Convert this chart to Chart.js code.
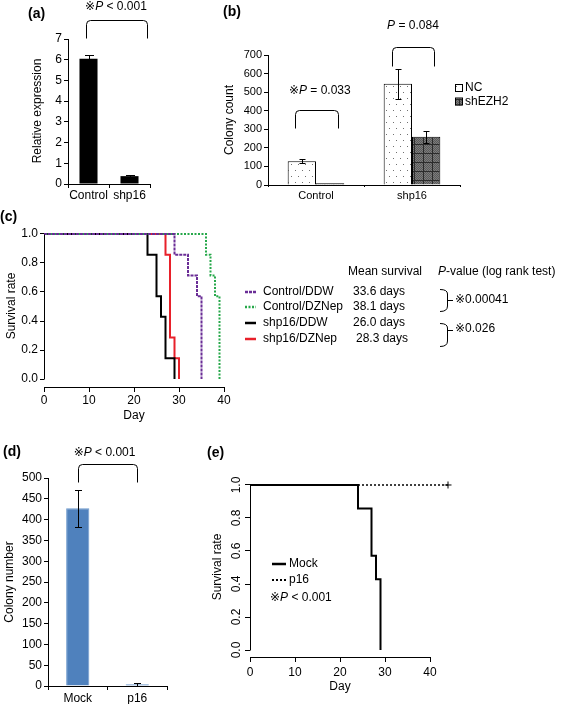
<!DOCTYPE html>
<html><head><meta charset="utf-8">
<script src="https://cdn.jsdelivr.net/npm/chart.js@4.4.1/dist/chart.umd.min.js"></script>
<style>
html,body{margin:0;padding:0;background:#fff;}
#wrap{position:relative;width:572px;height:705px;overflow:hidden;background:#fff}
canvas{position:absolute;left:0;top:0}
</style></head><body><div id="wrap">
<canvas id="cA" width="572" height="705"></canvas>
<canvas id="cB" width="572" height="705"></canvas>
<canvas id="cC" width="572" height="705"></canvas>
<canvas id="cD" width="572" height="705"></canvas>
<canvas id="cE" width="572" height="705"></canvas>
</div>
<script>
// ---------------- DATA ----------------
// (a) relative expression
const relCategories = ['Control', 'shp16'];
const relExpression = [6.05, 0.38];
const relExpressionErr = [0.2, 0.07];
const relTicks = [0, 1, 2, 3, 4, 5, 6, 7];

// (b) colony count
const colonyCategories = ['Control', 'shp16'];
const colonySeries = ['NC', 'shEZH2'];
const colonyNC = [128, 545];
const colonyNCErr = [12, 80];
const colonyShEZH2 = [9, 260];
const colonyShEZH2Err = [0, 32];
const colonyTicks = [0, 100, 200, 300, 400, 500, 600, 700];

// (c) Kaplan-Meier survival
const survGroups = ['Control/DDW', 'Control/DZNep', 'shp16/DDW', 'shp16/DZNep'];
const meanSurvival = ['33.6 days', '38.1 days', '26.0 days', '28.3 days'];
const daysCtrlDDW = [0, 29, 32, 34, 35];
const rateCtrlDDW = [1.0, 0.857, 0.714, 0.571, 0.0];
const daysCtrlDZNep = [0, 36, 37, 38, 39];
const rateCtrlDZNep = [1.0, 0.857, 0.714, 0.571, 0.0];
const daysShpDDW = [0, 23, 25, 26, 27, 29];
const rateShpDDW = [1.0, 0.857, 0.571, 0.429, 0.143, 0.0];
const daysShpDZNep = [0, 27, 28, 29, 30];
const rateShpDZNep = [1.0, 0.857, 0.286, 0.143, 0.0];
const pValues = ['※0.00041', '※0.026'];
const survTicks = [0, 0.2, 0.4, 0.6, 0.8, 1.0];
const dayTicks = [0, 10, 20, 30, 40];

// (d) colony number
const p16Categories = ['Mock', 'p16'];
const p16Colonies = [427, 4];
const p16ColoniesErr = [45, 3];
const p16Ticks = [0, 50, 100, 150, 200, 250, 300, 350, 400, 450, 500];

// (e) survival Mock vs p16
const survGroupsE = ['Mock', 'p16'];
const daysMock = [0, 24, 27, 28, 29];
const rateMock = [1.0, 0.857, 0.571, 0.429, 0.0];
const daysP16 = [0, 44];
const rateP16 = [1.0, 1.0];

// ---------------- HELPERS ----------------
const FONT = '"Liberation Sans", Arial, Helvetica, "DejaVu Sans", "Noto Sans CJK JP", sans-serif';
const W = 572, H = 705;
function setFont(ctx, size, italic, bold) {
  ctx.font = (italic ? 'italic ' : '') + (bold ? 'bold ' : '') + size + 'px ' + FONT;
}
function richText(ctx, str, x, y, size, align, bold, rot) {
  const parts = str.split('*').map((t, i) => ({ t, it: i % 2 === 1 })).filter(p => p.t.length);
  const widths = parts.map(p => { setFont(ctx, size, p.it, bold); return ctx.measureText(p.t).width; });
  const total = widths.reduce((a, b) => a + b, 0);
  ctx.save();
  ctx.translate(x, y);
  if (rot) ctx.rotate(rot);
  let cx = align === 'center' ? -total / 2 : align === 'right' ? -total : 0;
  ctx.textAlign = 'left'; ctx.textBaseline = 'middle'; ctx.fillStyle = '#000';
  parts.forEach((p, i) => { setFont(ctx, size, p.it, bold); ctx.fillText(p.t, cx, 0); cx += widths[i]; });
  ctx.restore();
}
function pad(L, R, T, B, yw, xh) {
  return { left: L - yw, right: W - R, top: T, bottom: H - B - xh };
}
function textPlugin(items) {
  return { id: 'texts', afterDraw(chart) {
    items.forEach(it => richText(chart.ctx, it.t, it.x, it.y, it.size || 12, it.align || 'center', it.bold, it.rot));
  } };
}
function errPlugin(errs, cap) {
  return { id: 'errbars', afterDatasetsDraw(chart) {
    const ctx = chart.ctx, ys = chart.scales.y;
    ctx.save(); ctx.strokeStyle = '#000'; ctx.lineWidth = 1;
    errs.forEach((arr, di) => {
      const meta = chart.getDatasetMeta(di), data = chart.data.datasets[di].data;
      meta.data.forEach((bar, j) => {
        const e = arr[j]; if (!e) return;
        const x = Math.round(bar.x) + 0.5;
        const yt = Math.round(ys.getPixelForValue(data[j] + e)) + 0.5;
        const yb = Math.round(ys.getPixelForValue(Math.max(0, data[j] - e))) + 0.5;
        ctx.beginPath();
        ctx.moveTo(x, yt); ctx.lineTo(x, yb);
        ctx.moveTo(x - cap / 2, yt); ctx.lineTo(x + cap / 2, yt);
        ctx.moveTo(x - cap / 2, yb); ctx.lineTo(x + cap / 2, yb);
        ctx.stroke();
      });
    });
    ctx.restore();
  } };
}
function sigPlugin(items) {
  return { id: 'sig', afterDraw(chart) {
    const ctx = chart.ctx, xs = chart.scales.x, ys = chart.scales.y;
    ctx.save(); ctx.strokeStyle = '#000'; ctx.lineWidth = 1;
    items.forEach(b => {
      const x0 = Math.round(xs.getPixelForValue(b.x0)) + 0.5, x1 = Math.round(xs.getPixelForValue(b.x1)) + 0.5;
      const yt = Math.round(ys.getPixelForValue(b.top)) + 0.5, yl = Math.round(ys.getPixelForValue(b.leg)) + 0.5;
      const r = 4;
      ctx.beginPath();
      ctx.moveTo(x0, yl); ctx.lineTo(x0, yt + r); ctx.quadraticCurveTo(x0, yt, x0 + r, yt);
      ctx.lineTo(x1 - r, yt); ctx.quadraticCurveTo(x1, yt, x1, yt + r); ctx.lineTo(x1, yl);
      ctx.stroke();
      richText(ctx, b.label, xs.getPixelForValue(b.lx), ys.getPixelForValue(b.ly), b.size || 12, 'center');
    });
    ctx.restore();
  } };
}
// R-style detached axes: axis line spans first..last tick
const rAxesPlugin = { id: 'raxes', afterDraw(chart) {
  const ctx = chart.ctx, xs = chart.scales.x, ys = chart.scales.y, a = chart.chartArea;
  ctx.save(); ctx.strokeStyle = '#000'; ctx.lineWidth = 1;
  const ax = Math.round(a.left) + 0.5, ay = Math.round(a.bottom) + 0.5;
  const yt = ys.ticks, xt = xs.ticks;
  ctx.beginPath();
  ctx.moveTo(ax, Math.round(ys.getPixelForValue(yt[0].value)) + 0.5);
  ctx.lineTo(ax, Math.round(ys.getPixelForValue(yt[yt.length - 1].value)) + 0.5);
  ctx.moveTo(Math.round(xs.getPixelForValue(xt[0].value)) + 0.5, ay);
  ctx.lineTo(Math.round(xs.getPixelForValue(xt[xt.length - 1].value)) + 0.5, ay);
  ctx.stroke();
  ctx.restore();
} };
function makePattern(kind) {
  const c = document.createElement('canvas'); const g = c.getContext('2d');
  if (kind === 'dots') {
    c.width = 7; c.height = 12;
    g.fillStyle = '#ffffff'; g.fillRect(0, 0, 7, 12);
    g.fillStyle = '#707070'; g.fillRect(1, 2, 1, 1); g.fillRect(4, 8, 1, 1);
  } else {
    c.width = 9; c.height = 9;
    g.fillStyle = '#7c7c7c'; g.fillRect(0, 0, 9, 9);
    g.fillStyle = '#5a5a5a';
    for (let i = 0; i < 9; i++) for (let j = 0; j < 9; j++) if ((i + j) % 2) g.fillRect(i, j, 1, 1);
    g.fillStyle = '#2c2c2c'; g.fillRect(0, 0, 9, 1); g.fillRect(0, 0, 1, 9);
  }
  return g.createPattern(c, 'repeat');
}
function fixedTicks(arr) { return s => { s.ticks = arr.map(v => ({ value: v })); }; }
function font(size) { return { family: FONT, size: size }; }
function barY(min, max, ticksArr, yw, size, padding) {
  return { min, max, afterBuildTicks: fixedTicks(ticksArr), afterFit: s => { s.width = yw; },
    border: { display: true, color: '#000', width: 1 },
    grid: { drawOnChartArea: false, drawTicks: true, tickLength: 4, color: '#000' },
    ticks: { color: '#000', font: font(size), padding: padding } };
}
function barX(xh, size, tickLen, padding) {
  return { afterFit: s => { s.height = xh; },
    border: { display: true, color: '#000', width: 1 },
    grid: { drawOnChartArea: false, drawTicks: true, tickLength: tickLen, color: '#000', offset: true },
    ticks: { color: '#000', font: font(size), padding: padding, maxRotation: 0, autoSkip: false } };
}
const common = { responsive: false, animation: false, devicePixelRatio: 1, events: [],
  plugins: { legend: { display: false }, tooltip: { enabled: false } } };
function KM(days, rates) { return days.map((d, i) => ({ x: d, y: rates[i] })); }

// ---------------- (a) ----------------
new Chart(document.getElementById('cA'), {
  type: 'bar',
  data: { labels: relCategories, datasets: [{ label: 'Relative expression', data: relExpression,
    backgroundColor: '#000', borderWidth: 0, barPercentage: 0.44, categoryPercentage: 1 }] },
  options: Object.assign({}, common, {
    layout: { padding: pad(68, 150, 39, 184, 40, 22) },
    scales: { y: barY(0, 7, relTicks, 40, 12, 2), x: barX(22, 12, 4, 0) } }),
  plugins: [errPlugin([relExpressionErr], 9),
    sigPlugin([{ x0: -0.06, x1: 1.43, top: 7.9, leg: 7.05, label: '※*P* < 0.001', lx: 0.67, ly: 8.55 }]),
    textPlugin([{ t: '(a)', x: 28, y: 14, size: 14, bold: true, align: 'left' },
      { t: 'Relative expression', x: 38, y: 111, rot: -Math.PI / 2 }])]
});

// ---------------- (b) ----------------
const dotsPat = makePattern('dots'), gridPat = makePattern('grid');
new Chart(document.getElementById('cB'), {
  type: 'bar',
  data: { labels: colonyCategories, datasets: [
    { label: colonySeries[0], data: colonyNC, backgroundColor: dotsPat, borderColor: '#000', borderWidth: 1,
      barPercentage: 1, categoryPercentage: 0.59 },
    { label: colonySeries[1], data: colonyShEZH2, backgroundColor: gridPat, borderColor: '#000', borderWidth: 1,
      barPercentage: 1, categoryPercentage: 0.59 }] },
  options: Object.assign({}, common, {
    layout: { padding: pad(268, 460, 55, 185, 68, 20) },
    scales: { y: barY(0, 700, colonyTicks, 68, 11, 2), x: barX(20, 11, 2, 2) } }),
  plugins: [errPlugin([colonyNCErr, colonyShEZH2Err], 6),
    sigPlugin([{ x0: -0.22, x1: 0.23, top: 404, leg: 305, label: '※*P* = 0.033', lx: 0.04, ly: 506 },
               { x0: 0.79, x1: 1.23, top: 743, leg: 640, label: '*P* = 0.084', lx: 1.01, ly: 856 }]),
    { id: 'legB', afterDraw(chart) {
      const ctx = chart.ctx;
      chart.data.datasets.forEach((ds, i) => {
        const y = 88 + i * 13.5;
        ctx.save(); ctx.fillStyle = ds.backgroundColor; ctx.fillRect(455, y - 3, 7, 7);
        ctx.strokeStyle = '#000'; ctx.lineWidth = 1; ctx.strokeRect(455.5, y - 3.5, 7, 7); ctx.restore();
        richText(ctx, ds.label, 465, y, 12, 'left');
      });
    } },
    textPlugin([{ t: '(b)', x: 223, y: 12, size: 14, bold: true, align: 'left' },
      { t: 'Colony count', x: 230, y: 120, rot: -Math.PI / 2 }])]
});

// ---------------- (c) ----------------
const survColors = ['#6a2d96', '#26a84a', '#000000', '#e8202a'];
const survDash = [[3, 1], [2, 1.5], [], []];
new Chart(document.getElementById('cC'), {
  type: 'line',
  data: { datasets: [
    { label: survGroups[0], data: KM(daysCtrlDDW, rateCtrlDDW) },
    { label: survGroups[1], data: KM(daysCtrlDZNep, rateCtrlDZNep) },
    { label: survGroups[2], data: KM(daysShpDDW, rateShpDDW) },
    { label: survGroups[3], data: KM(daysShpDZNep, rateShpDZNep) }
  ].map((d, i) => Object.assign(d, { borderColor: survColors[i], borderDash: survDash[i], borderWidth: 2,
      stepped: 'before', pointRadius: 0, fill: false, clip: false, tension: 0 })) },
  options: Object.assign({}, common, {
    layout: { padding: pad(44, 224, 226, 387, 44, 20) },
    scales: {
      x: { type: 'linear', min: 0, max: 40, afterBuildTicks: fixedTicks(dayTicks), afterFit: s => { s.height = 20; },
        border: { display: false }, grid: { drawOnChartArea: false, tickLength: 5, color: '#000' },
        ticks: { color: '#000', font: font(12), padding: 1, maxRotation: 0 } },
      y: { type: 'linear', min: -0.055, max: 1.055, afterBuildTicks: fixedTicks(survTicks), afterFit: s => { s.width = 44; },
        border: { display: false }, grid: { drawOnChartArea: false, tickLength: 4, color: '#000' },
        ticks: { color: '#000', font: font(12), padding: 2, callback: v => Number(v).toFixed(1) } } } }),
  plugins: [rAxesPlugin,
    { id: 'legC', afterDraw(chart) {
      const ctx = chart.ctx;
      const rows = [292, 307, 323, 339];
      chart.data.datasets.forEach((ds, i) => {
        ctx.save(); ctx.strokeStyle = ds.borderColor; ctx.lineWidth = 2.5; ctx.setLineDash(ds.borderDash || []);
        ctx.beginPath(); ctx.moveTo(245, rows[i]); ctx.lineTo(256, rows[i]); ctx.stroke(); ctx.restore();
        richText(ctx, ds.label, 263, rows[i], 12, 'left');
        richText(ctx, meanSurvival[i], i === 3 ? 356 : 353, rows[i], 12, 'left');
      });
      // braces
      ctx.save(); ctx.strokeStyle = '#000'; ctx.lineWidth = 1;
      [[289, 311, 300], [323, 346, 330]].forEach(([t, b, m]) => {
        ctx.beginPath();
        ctx.moveTo(440, t + 0.5); ctx.quadraticCurveTo(447.5, t + 0.5, 447.5, t + 5);
        ctx.lineTo(447.5, b - 5); ctx.quadraticCurveTo(447.5, b + 0.5, 440, b + 0.5);
        ctx.moveTo(447.5, m + 0.5); ctx.lineTo(453, m + 0.5);
        ctx.stroke();
      });
      ctx.restore();
      richText(ctx, pValues[0], 455, 300, 12, 'left');
      richText(ctx, pValues[1], 455, 329, 12, 'left');
    } },
    textPlugin([{ t: '(c)', x: 0, y: 217, size: 14, bold: true, align: 'left' },
      { t: 'Survival rate', x: 12, y: 306, rot: -Math.PI / 2 },
      { t: 'Day', x: 134, y: 416 },
      { t: 'Mean survival', x: 348, y: 272, align: 'left' },
      { t: '*P*-value (log rank test)', x: 438, y: 272, align: 'left' }])]
});

// ---------------- (d) ----------------
new Chart(document.getElementById('cD'), {
  type: 'bar',
  data: { labels: p16Categories, datasets: [{ label: 'Colony number', data: p16Colonies,
    backgroundColor: '#4f81bd', borderColor: '#6d98cc', borderWidth: 1, barPercentage: 0.39, categoryPercentage: 1 }] },
  options: Object.assign({}, common, {
    layout: { padding: pad(48, 167, 478, 686, 48, 18) },
    scales: { y: barY(0, 500, p16Ticks, 48, 12, 2), x: barX(18, 12, 4, 1) } }),
  plugins: [errPlugin([p16ColoniesErr], 7),
    sigPlugin([{ x0: 0, x1: 1, top: 534, leg: 490, label: '※*P* < 0.001', lx: 0.45, ly: 560 }]),
    textPlugin([{ t: '(d)', x: 3, y: 452, size: 14, bold: true, align: 'left' },
      { t: 'Colony number', x: 10, y: 582, rot: -Math.PI / 2 }])]
});

// ---------------- (e) ----------------
new Chart(document.getElementById('cE'), {
  type: 'line',
  data: { datasets: [
    { label: survGroupsE[0], data: KM(daysMock, rateMock), borderColor: '#000', borderWidth: 2, borderDash: [],
      stepped: 'before', pointRadius: 0, clip: false },
    { label: survGroupsE[1], data: KM(daysP16, rateP16), borderColor: '#000', borderWidth: 1.3, borderDash: [2, 2],
      stepped: 'before', pointRadius: [0, 3.5], pointStyle: 'cross', pointBorderWidth: 1, pointBorderColor: '#000', clip: false }
  ] },
  options: Object.assign({}, common, {
    layout: { padding: pad(250, 452.5, 478, 657, 50, 22) },
    scales: {
      x: { type: 'linear', min: 0, max: 45, afterBuildTicks: fixedTicks(dayTicks), afterFit: s => { s.height = 22; },
        border: { display: false }, grid: { drawOnChartArea: false, tickLength: 5, color: '#000' },
        ticks: { color: '#000', font: font(12), padding: 3, maxRotation: 0 } },
      y: { type: 'linear', min: -0.0424, max: 1.0424, afterBuildTicks: fixedTicks(survTicks), afterFit: s => { s.width = 50; },
        border: { display: false }, grid: { drawOnChartArea: false, tickLength: 5, color: '#000' },
        ticks: { color: '#000', font: font(12), padding: 0, minRotation: 90, maxRotation: 90, crossAlign: 'center',
          callback: v => Number(v).toFixed(1) } } } }),
  plugins: [rAxesPlugin,
    { id: 'legE', afterDraw(chart) {
      const ctx = chart.ctx;
      chart.data.datasets.forEach((ds, i) => {
        const y = 564 + i * 16;
        ctx.save(); ctx.strokeStyle = '#000'; ctx.lineWidth = i === 0 ? 2.5 : 2; ctx.setLineDash(i === 0 ? [] : [2, 2]);
        ctx.beginPath(); ctx.moveTo(272, y); ctx.lineTo(286, y); ctx.stroke(); ctx.restore();
        richText(ctx, ds.label, 289, y, 12, 'left');
      });
    } },
    textPlugin([{ t: '(e)', x: 207, y: 453, size: 14, bold: true, align: 'left' },
      { t: 'Survival rate', x: 218, y: 567, rot: -Math.PI / 2 },
      { t: 'Day', x: 340, y: 687 },
      { t: '※*P* < 0.001', x: 270, y: 598, align: 'left' }])]
});
</script></body></html>
